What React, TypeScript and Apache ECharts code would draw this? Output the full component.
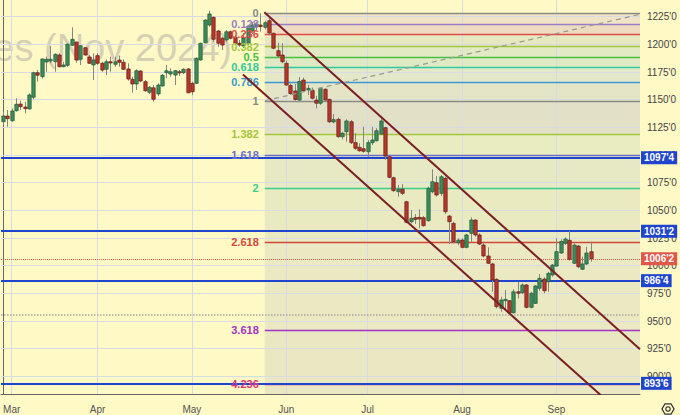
import React, { useEffect, useRef } from 'react';
import * as echarts from 'echarts';

// ---------- data ----------
const FIRST_DAY = '2024-02-28';
const HOLIDAYS = ['2024-03-29', '2024-05-27', '2024-06-19', '2024-07-04', '2024-09-02'];
const SLOT_COUNT = 149;
const MONTHS = ['Jan', 'Feb', 'Mar', 'Apr', 'May', 'Jun', 'Jul', 'Aug', 'Sep', 'Oct', 'Nov', 'Dec'];

const opens = [
  1130.1, 1135.3, 1131.0, 1140.1, 1146.1, 1143.4, 1141.6, 1152.2, 1174.4, 1170.8,
  1184.1, 1185.0, 1184.3, 1190.4, 1179.8, 1181.1, 1199.2, 1202.1, 1186.5, 1197.0,
  1188.6, 1181.4, 1189.8, 1182.9, 1177.5, 1184.3, 1182.0, 1185.9, 1183.8, 1177.8,
  1168.4, 1164.2, 1175.9, 1166.3, 1156.7, 1160.8, 1155.2, 1162.4, 1174.4, 1173.2,
  1172.3, 1175.3, 1174.4, 1177.8, 1164.8, 1164.8, 1185.9, 1201.5, 1217.5, 1224.5,
  1212.1, 1205.5, 1204.0, 1211.4, 1206.4, 1201.0, 1198.5, 1201.0, 1212.1, 1216.0,
  1217.5, 1215.4, 1221.4, 1210.0, 1194.3, 1190.4, 1182.9, 1162.9, 1157.9, 1149.7,
  1167.8, 1158.8, 1158.3, 1149.7, 1146.8, 1159.4, 1150.2, 1129.9, 1132.3, 1116.6,
  1121.1, 1130.1, 1111.2, 1107.0, 1105.7, 1103.0, 1111.2, 1113.0, 1119.0, 1124.7,
  1098.5, 1079.5, 1066.9, 1069.1, 1057.8, 1039.8, 1043.4, 1043.7, 1043.4, 1040.7,
  1066.9, 1075.0, 1065.4, 1079.0, 1044.9, 1038.3, 1020.8, 1023.2, 1016.6, 1029.3,
  1041.3, 1027.8, 1018.7, 1008.8, 1001.6, 987.7, 961.5, 968.4, 968.4, 957.5,
  976.5, 975.6, 982.6, 962.4, 966.0, 979.6, 988.0, 985.5, 991.6, 999.7,
  1011.5, 1020.2, 1023.0, 1002.2, 1017.8, 996.8, 1001.6, 1012.7,
];
const closes = [
  1135.3, 1132.9, 1139.8, 1145.9, 1143.7, 1141.9, 1154.3, 1174.4, 1172.1, 1186.8,
  1186.5, 1186.5, 1191.0, 1179.8, 1181.4, 1200.1, 1204.6, 1185.9, 1198.8, 1190.4,
  1182.9, 1185.9, 1182.9, 1176.8, 1184.3, 1183.4, 1184.3, 1183.8, 1177.5, 1168.7,
  1164.2, 1176.2, 1166.9, 1158.1, 1161.2, 1150.4, 1163.3, 1172.1, 1176.2, 1175.3,
  1176.2, 1174.4, 1177.5, 1156.3, 1157.2, 1187.4, 1201.0, 1222.0, 1227.5, 1204.6,
  1201.0, 1199.4, 1211.4, 1205.5, 1201.0, 1199.4, 1205.8, 1216.6, 1217.5, 1218.4,
  1216.0, 1219.6, 1210.3, 1196.5, 1189.5, 1184.3, 1163.3, 1155.6, 1150.2, 1166.5,
  1158.1, 1160.3, 1151.3, 1146.8, 1160.3, 1149.7, 1130.1, 1132.0, 1116.6, 1119.7,
  1130.8, 1111.2, 1106.1, 1103.9, 1103.4, 1111.2, 1113.6, 1122.0, 1130.8, 1099.1,
  1079.9, 1067.8, 1069.1, 1065.4, 1039.2, 1042.8, 1041.9, 1042.2, 1036.2, 1069.9,
  1075.9, 1063.9, 1080.4, 1048.8, 1039.8, 1021.7, 1023.2, 1016.6, 1027.8, 1041.3,
  1027.8, 1019.6, 1008.8, 1002.2, 987.1, 963.0, 969.0, 969.6, 957.5, 976.5,
  975.1, 982.6, 962.4, 975.1, 981.7, 988.6, 977.4, 993.1, 1000.6, 1012.7,
  1021.9, 1024.1, 1005.8, 1018.7, 999.1, 1001.6, 1011.5, 1006.25,
];
const lows = [
  1127.2, 1125.6, 1130.1, 1139.2, 1140.7, 1137.7, 1141.3, 1150.4, 1166.3, 1169.3,
  1175.3, 1182.9, 1175.3, 1179.3, 1179.3, 1179.8, 1198.5, 1183.4, 1181.4, 1189.8,
  1182.3, 1167.8, 1181.4, 1175.3, 1172.3, 1175.3, 1179.8, 1179.8, 1176.8, 1167.2,
  1156.3, 1158.8, 1165.7, 1157.2, 1155.2, 1148.2, 1153.4, 1161.8, 1169.3, 1170.8,
  1163.3, 1171.4, 1173.2, 1155.8, 1154.3, 1164.2, 1185.3, 1201.0, 1216.0, 1202.4,
  1197.9, 1194.9, 1202.4, 1204.6, 1199.4, 1197.9, 1196.7, 1199.4, 1209.4, 1213.0,
  1211.5, 1213.6, 1208.5, 1195.6, 1188.3, 1182.9, 1162.4, 1154.3, 1149.1, 1149.1,
  1157.0, 1154.3, 1150.2, 1142.2, 1145.2, 1149.1, 1128.9, 1128.7, 1115.6, 1114.2,
  1112.1, 1110.0, 1104.6, 1103.0, 1102.1, 1098.5, 1109.1, 1112.1, 1118.1, 1095.5,
  1079.0, 1066.9, 1062.4, 1063.9, 1038.3, 1038.3, 1037.7, 1033.8, 1035.3, 1039.8,
  1065.4, 1062.4, 1063.0, 1046.7, 1019.6, 1020.2, 1018.7, 1015.7, 1015.7, 1021.7,
  1026.2, 1018.7, 1007.6, 1001.6, 976.5, 961.5, 958.4, 960.6, 956.4, 957.0,
  970.6, 974.4, 961.5, 961.5, 965.4, 977.4, 975.1, 976.5, 990.1, 999.1,
  1010.6, 1018.7, 1004.5, 1001.6, 997.7, 996.1, 1000.7, 1003.6,
];
const highs = [
  1139.2, 1140.7, 1142.2, 1151.3, 1149.1, 1148.2, 1155.8, 1175.3, 1176.8, 1187.4,
  1188.9, 1198.5, 1191.9, 1191.9, 1184.3, 1201.0, 1215.4, 1202.4, 1199.4, 1197.4,
  1190.4, 1191.9, 1191.9, 1184.3, 1186.5, 1188.9, 1188.9, 1189.8, 1186.5, 1182.9,
  1170.8, 1177.5, 1176.8, 1167.8, 1162.4, 1163.3, 1164.8, 1173.2, 1181.4, 1178.4,
  1176.8, 1176.8, 1178.4, 1178.4, 1166.3, 1188.3, 1201.5, 1222.7, 1230.4, 1225.0,
  1213.0, 1206.9, 1213.0, 1212.4, 1208.5, 1204.0, 1210.3, 1217.5, 1220.2, 1220.2,
  1228.1, 1221.4, 1223.6, 1210.6, 1201.5, 1201.0, 1185.3, 1164.8, 1164.2, 1170.5,
  1169.9, 1163.3, 1161.0, 1153.4, 1161.2, 1160.3, 1151.1, 1137.1, 1133.9, 1121.1,
  1132.3, 1131.7, 1119.7, 1110.6, 1125.6, 1113.6, 1125.6, 1124.2, 1134.1, 1125.6,
  1099.1, 1080.4, 1072.9, 1073.8, 1058.7, 1050.3, 1046.7, 1051.0, 1044.9, 1071.4,
  1087.1, 1081.0, 1082.0, 1080.4, 1045.8, 1039.8, 1024.8, 1024.8, 1028.7, 1043.7,
  1041.9, 1029.3, 1020.8, 1016.6, 1002.7, 988.6, 972.0, 978.1, 969.0, 978.7,
  985.5, 984.1, 983.5, 976.5, 982.6, 992.5, 989.5, 994.6, 1001.6, 1024.8,
  1023.9, 1025.7, 1031.4, 1020.2, 1018.7, 1008.2, 1017.2, 1021.7,
];

const yTicks = [900, 925, 950, 975, 1000, 1025, 1050, 1075, 1100, 1125, 1150, 1175, 1200, 1225];
const Y_MIN = 884.1;
const Y_MAX = 1240.1;

// Fibonacci tool
const FIB_HIGH = 1228.1;
const FIB_LOW = 1149.0;
const FIB_START = 61;
const fibLevels = [0, 0.128, 0.236, 0.382, 0.5, 0.618, 0.786, 1, 1.382, 1.618, 2, 2.618, 3.618, 4.236];
const fibLabels = ['0', '0.128', '0.236', '0.382', '0.5', '0.618', '0.786', '1', '1.382', '1.618', '2', '2.618', '3.618', '4.236'];
const fibColors = ['#8a8a86', '#9a7fc6', '#e24a4a', '#a2c63c', '#45c045', '#2ec99c', '#3c98d2', '#8a8a86', '#a2c63c', '#6a70cc', '#3ccc8e', '#d2493c', '#a333c4', '#e2337e'];
const fibFills = ['#f1e3c6', '#eddcc0', '#e6e9c0', '#e1eac2', '#dfeac4', '#e2e8c8', '#e4e4c6', '#e2e1c8', '#e9ebc0', '#e6e9c4', '#e9eac0', '#ebe9c2', '#eae8c2'];

// horizontal levels
const blueLevels = [1097.5, 1031.25, 986.5, 893.75];
const grayDottedLevel = 955.5;

// channel & trend lines (bar index, price)
const upperChannel = [[60.9, 1229.0], [148.5, 924.5]];
const lowerChannel = [[55.9, 1172.7], [148.5, 851.3]];
const fibTrend = [[61.1, 1149.1], [148.5, 1227.2]];

// ---------- helpers ----------
const fmt = (v: number) => {
  const w = Math.floor(v + 1e-9);
  const e = Math.round((v - w) * 8);
  return `${w}'${e}`;
};

function tradingDays(): string[] {
  const out: string[] = [];
  const d = new Date(FIRST_DAY + 'T12:00:00Z');
  while (out.length < SLOT_COUNT) {
    const iso = d.toISOString().slice(0, 10);
    const wd = d.getUTCDay();
    if (wd !== 0 && wd !== 6 && !HOLIDAYS.includes(iso)) out.push(iso);
    d.setUTCDate(d.getUTCDate() + 1);
  }
  return out;
}

const BG = '#fff9c6';
const UP_FILL = '#3d8c5c';
const UP_LINE = '#1f5a36';
const DN_FILL = '#b6392c';
const DN_LINE = '#6a1a14';
const WICK = '#858585';
const BLUE = '#1f45cf';
const FONT = '"Liberation Sans", Arial, sans-serif';

export default function App() {
  const ref = useRef<HTMLDivElement>(null);

  useEffect(() => {
    if (!ref.current) return;
    const chart = echarts.init(ref.current, null, { renderer: 'svg' });
    const days = tradingDays();
    const monthStarts: number[] = [];
    for (let i = 1; i < days.length; i++) {
      if (days[i].slice(5, 7) !== days[i - 1].slice(5, 7)) monthStarts.push(i);
    }
    const monthSet = new Set(monthStarts);
    const candles = opens.map((o, i) => [i, o, closes[i], lows[i], highs[i]]);
    const fibPrice = (l: number) => FIB_HIGH - l * (FIB_HIGH - FIB_LOW);
    const X_END = SLOT_COUNT - 0.5;

    const fibAreas = fibLevels.slice(1).map((l, k) => [
      { coord: [FIB_START, fibPrice(fibLevels[k])], itemStyle: { color: fibFills[k], opacity: 1 } },
      { coord: [X_END, k === fibLevels.length - 2 ? Y_MIN : fibPrice(l)] },
    ]);
    const fibLines = fibLevels.map((l, k) => [
      {
        coord: [FIB_START, fibPrice(l)],
        lineStyle: { color: fibColors[k], width: 1.3, type: 'solid' },
        label: {
          show: true, position: 'start', formatter: fibLabels[k], color: fibColors[k],
          fontSize: 11, fontWeight: 'bold', fontFamily: FONT, distance: 6,
        },
      },
      { coord: [X_END, fibPrice(l)] },
    ]);

    const levelLine = (v: number, color: string, type: any, width: number, boxColor: string | null) => ({
      yAxis: v,
      lineStyle: { color, type, width },
      label: boxColor
        ? {
            show: true, position: 'end', formatter: fmt(v), color: '#fff', backgroundColor: boxColor,
            padding: [2, 3, 1, 3], fontSize: 10, fontWeight: 'bold', fontFamily: FONT, distance: 1,
          }
        : { show: false },
    });

    const option: any = {
      animation: false,
      backgroundColor: BG,
      grid: { left: 1, right: 40, top: 0, bottom: 21 },
      xAxis: [
        {
          type: 'category',
          data: days,
          boundaryGap: true,
          axisLine: { show: true, lineStyle: { color: '#666', width: 1 } },
          axisTick: { show: false },
          splitLine: { show: false },
          axisLabel: {
            interval: (i: number) => monthSet.has(i),
            formatter: (v: string) => MONTHS[parseInt(v.slice(5, 7), 10) - 1],
            color: '#555', fontSize: 10, fontFamily: FONT, margin: 10,
          },
        },
        { type: 'value', min: -0.5, max: X_END, show: false },
      ],
      yAxis: {
        type: 'value',
        position: 'right',
        min: Y_MIN,
        max: Y_MAX,
        axisLine: { show: true, lineStyle: { color: '#666', width: 1 } },
        axisTick: { show: false },
        splitLine: { show: false },
        axisLabel: {
          customValues: yTicks, formatter: (v: number) => fmt(v),
          color: '#444', fontSize: 10, fontFamily: FONT, margin: 7,
        },
      },
      graphic: [
        {
          type: 'text', z: 0, zlevel: 0, silent: true,
          style: {
            text: 'Soybean Futures (Nov 2024)', x: 232, y: 48, textAlign: 'right', textVerticalAlign: 'middle',
            fill: '#d6d1b4', font: `38px ${FONT}`,
          },
        },
        {
          type: 'group', z: 10,
          children: [
            {
              type: 'polygon', shape: {
                points: [[662, 409], [665, 403.8], [671, 403.8], [674, 409], [671, 414.2], [665, 414.2]],
              }, style: { fill: 'none', stroke: '#333', lineWidth: 1.3 },
            },
            { type: 'circle', shape: { cx: 668, cy: 409, r: 2.2 }, style: { fill: 'none', stroke: '#333', lineWidth: 1.2 } },
          ],
        },
      ],
      series: [
        {
          name: 'fibBands', type: 'line', xAxisIndex: 1, data: [], z: 1, silent: true,
          markArea: { silent: true, data: fibAreas },
        },
        {
          name: 'grid', type: 'line', xAxisIndex: 1, data: [], z: 2, silent: true,
          markLine: {
            silent: true, symbol: 'none', label: { show: false },
            lineStyle: { color: '#d9dbe2', width: 1, type: 'solid' },
            data: [...yTicks.map((v) => ({ yAxis: v })), ...monthStarts.map((i) => ({ xAxis: i }))],
          },
        },
        {
          name: 'fibLines', type: 'line', xAxisIndex: 1, data: [], z: 3, silent: true,
          markLine: { silent: true, symbol: 'none', data: fibLines },
        },
        {
          name: 'candles', type: 'custom', z: 5, data: candles, encode: { x: 0, y: [1, 2, 3, 4] },
          renderItem: (params: any, api: any) => {
            const i = api.value(0);
            const o = api.value(1), c = api.value(2), l = api.value(3), h = api.value(4);
            const pO = api.coord([i, o]);
            const pC = api.coord([i, c]);
            const pL = api.coord([i, l]);
            const pH = api.coord([i, h]);
            const x = Math.round(pO[0]) + 0.5;
            const up = c >= o;
            const top = Math.min(pO[1], pC[1]);
            const bot = Math.max(pO[1], pC[1]);
            return {
              type: 'group',
              children: [
                { type: 'line', shape: { x1: x, y1: pH[1], x2: x, y2: pL[1] }, style: { stroke: WICK, lineWidth: 1 } },
                {
                  type: 'rect', shape: { x: x - 1.7, y: top, width: 3.4, height: Math.max(bot - top, 1.2) },
                  style: { fill: up ? UP_FILL : DN_FILL, stroke: up ? UP_LINE : DN_LINE, lineWidth: 0.7 },
                },
              ],
            };
          },
        },
        {
          name: 'levels', type: 'line', xAxisIndex: 1, data: [], z: 6, silent: true,
          markLine: {
            silent: true, symbol: 'none',
            data: [
              levelLine(grayDottedLevel, '#a8a8a0', 'dotted', 1.5, null),
              levelLine(closes[closes.length - 1], '#e0584a', 'dotted', 1, '#e0584a'),
              ...blueLevels.map((v) => levelLine(v, BLUE, 'solid', 2, BLUE)),
            ],
          },
        },
        {
          name: 'upper', type: 'line', xAxisIndex: 1, data: upperChannel, z: 7, symbol: 'none', silent: true,
          lineStyle: { color: '#7a1f24', width: 2 },
        },
        {
          name: 'lower', type: 'line', xAxisIndex: 1, data: lowerChannel, z: 7, symbol: 'none', silent: true,
          lineStyle: { color: '#7a1f24', width: 2 },
        },
        {
          name: 'trend', type: 'line', xAxisIndex: 1, data: fibTrend, z: 7, symbol: 'none', silent: true,
          lineStyle: { color: '#9a9a96', width: 1.2, type: [5, 4] },
        },
      ],
    };
    chart.setOption(option);
    return () => chart.dispose();
  }, []);

  return (
    <div
      ref={ref}
      style={{ position: 'absolute', left: 0, top: 0, width: 680, height: 415, background: BG }}
    />
  );
}
